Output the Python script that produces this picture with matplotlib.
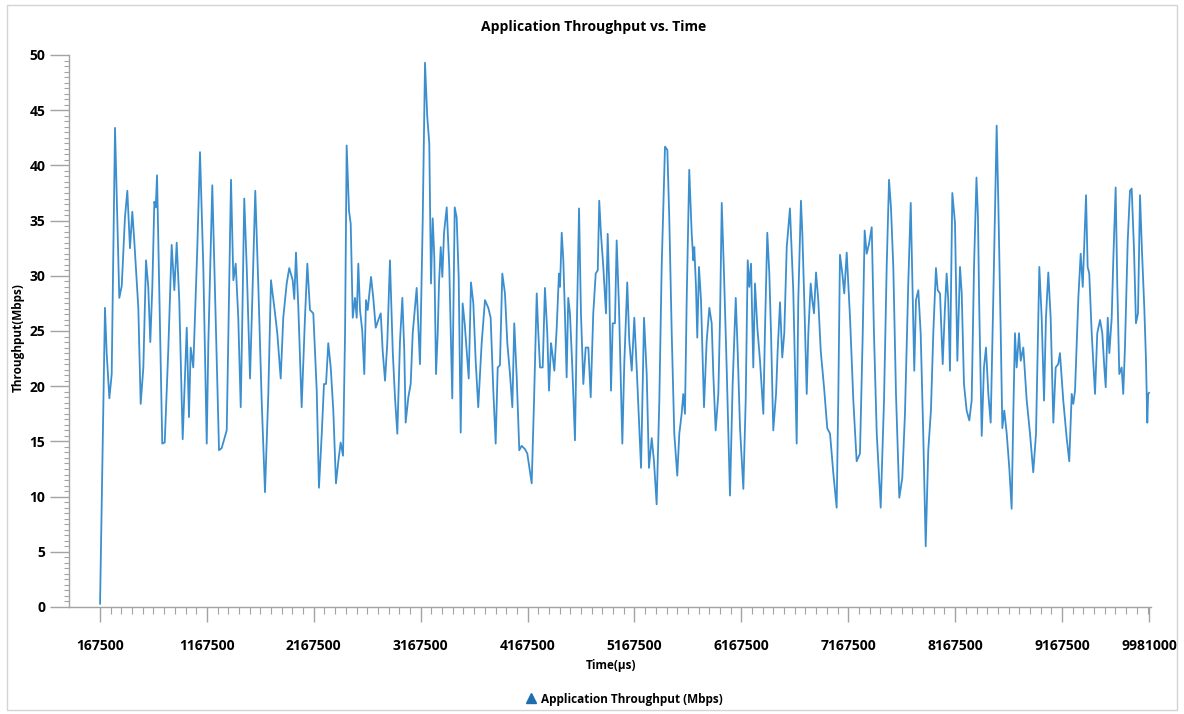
import numpy as np
import matplotlib
matplotlib.use("Agg")
import matplotlib.pyplot as plt
from matplotlib.ticker import FixedLocator
from matplotlib.lines import Line2D
from matplotlib.patches import Rectangle

# ---------------- data ----------------
time_ms = [
    168, 214, 230, 255, 277, 286, 308, 329, 348, 371,
    401, 423, 448, 470, 488, 526, 548, 573, 598, 619,
    638, 657, 676, 689, 701, 719, 750, 773, 806, 838,
    863, 885, 909, 941, 979, 1000, 1016, 1040, 1078, 1103,
    1134, 1166, 1181, 1218, 1243, 1281, 1306, 1353, 1393, 1415,
    1437, 1461, 1484, 1499, 1517, 1540, 1571, 1592, 1620, 1648,
    1680, 1711, 1742, 1767, 1805, 1826, 1858, 1882, 1914, 1938,
    1970, 1985, 2001, 2023, 2054, 2085, 2107, 2132, 2163, 2195,
    2216, 2242, 2263, 2282, 2303, 2326, 2350, 2375, 2397, 2419,
    2441, 2460, 2475, 2497, 2513, 2532, 2553, 2569, 2584, 2600,
    2621, 2640, 2656, 2672, 2703, 2724, 2747, 2771, 2794, 2812,
    2834, 2855, 2880, 2906, 2927, 2949, 2974, 2996, 3014, 3027,
    3052, 3074, 3093, 3130, 3161, 3186, 3208, 3229, 3248, 3264,
    3280, 3295, 3311, 3327, 3339, 3355, 3370, 3386, 3411, 3435,
    3463, 3486, 3504, 3523, 3542, 3560, 3579, 3598, 3617, 3638,
    3660, 3682, 3706, 3738, 3769, 3800, 3822, 3847, 3869, 3888,
    3909, 3931, 3956, 3978, 4003, 4025, 4043, 4066, 4090, 4112,
    4143, 4165, 4206,
    4228, 4253, 4268, 4284, 4309, 4330, 4352, 4368, 4387, 4399,
    4418, 4440, 4461, 4471, 4487, 4502, 4518, 4533, 4548, 4564,
    4586, 4611, 4627, 4649, 4667, 4689, 4711, 4736, 4758, 4782,
    4805, 4824, 4838, 4854, 4876, 4901, 4917, 4932, 4948, 4964,
    4985, 5001, 5023, 5054, 5072, 5100, 5119, 5142, 5166, 5188,
    5210, 5229, 5257, 5282, 5303, 5329, 5350, 5375, 5400, 5422,
    5453, 5475, 5493, 5516, 5540, 5568, 5587, 5609, 5624, 5640,
    5656, 5680, 5703, 5718, 5727, 5743, 5755, 5771, 5790, 5818,
    5843, 5868, 5890, 5905, 5927, 5952, 5968, 5984, 6005, 6030,
    6061, 6086, 6115, 6133, 6155, 6186, 6208, 6227, 6242, 6258,
    6279, 6295, 6317, 6342, 6373, 6389, 6410, 6429, 6445, 6466,
    6492, 6507, 6529, 6550, 6569, 6592, 6622, 6638, 6653, 6669,
    6685, 6700, 6716, 6725, 6738, 6756, 6779, 6794, 6816, 6831,
    6847, 6866, 6887, 6910, 6941, 6971, 6997, 7028, 7059, 7074,
    7090, 7112, 7130, 7153, 7184, 7215, 7246, 7277, 7303, 7321,
    7340, 7362, 7387, 7408, 7434, 7471, 7502, 7527, 7549, 7567,
    7589, 7614, 7645, 7673, 7698, 7729, 7752, 7770, 7785, 7801,
    7823, 7845, 7869, 7892, 7916, 7941, 7963, 7988, 8004, 8026,
    8051, 8072, 8088, 8103, 8119, 8141, 8166, 8188, 8213, 8229,
    8250, 8275, 8300, 8322, 8344, 8367, 8381, 8393, 8416, 8437,
    8456, 8478, 8500, 8524, 8556, 8571, 8594, 8609, 8627, 8650,
    8674, 8696, 8711, 8727, 8743, 8765, 8781, 8805, 8837, 8868,
    8898, 8924, 8955, 8977, 8999, 9017, 9039, 9061, 9086, 9108,
    9132, 9148, 9179, 9211, 9235, 9258, 9273, 9289, 9320, 9342,
    9361, 9373, 9392, 9407, 9422, 9445, 9476, 9497, 9523, 9544,
    9563, 9576, 9595, 9610, 9632, 9647, 9669, 9684, 9703, 9725,
    9740, 9756, 9782, 9803, 9819, 9841, 9859, 9878, 9897, 9915,
    9937, 9953, 9965, 9973, 9981,
]

throughput_mbps = [
    0.3, 27.1, 23, 18.9, 21.1, 27.8, 43.4, 35.3, 28, 29.1,
    35.3, 37.7, 32.5, 35.8, 33.2, 27.1, 18.4, 21.7, 31.4, 29,
    24, 29, 36.7, 36.2, 39.1, 30.2, 14.8, 14.9, 23.2, 32.8,
    28.7, 33, 27.8, 15.2, 25.3, 17.2, 23.5, 21.7, 32.6, 41.2,
    30.8, 14.8, 23.9, 38.2, 28.7, 14.2, 14.4, 16, 38.7, 29.6,
    31.1, 26.2, 18.1, 26.2, 37, 30.8, 20.7, 27.8, 37.7, 29.3,
    18.7, 10.4, 19.3, 29.6, 26.6, 24.8, 20.7, 26.2, 29.3, 30.7,
    29.6, 27.9, 32.1, 27.1, 18.1, 26.2, 31.1, 26.9, 26.6, 19.6,
    10.8, 15.7, 20.2, 20.2, 23.9, 21.7, 17.8, 11.2, 13.2, 14.9,
    13.7, 24.8, 41.8, 35.9, 34.7, 26.2, 28, 26.2, 31.1, 26.9,
    25, 21.1, 27.8, 26.9, 29.9, 28, 25.3, 26, 26.6, 23.2,
    20.5, 23.9, 31.4, 23.2, 19, 15.7, 24.1, 28, 23.2, 16.7,
    19, 20.2, 24.8, 28.9, 22, 34.7, 49.3, 44.4, 42, 29.3,
    35.2, 31.7, 21.1, 24.8, 29.3, 32.6, 29.9, 33.9, 36.2, 30.8,
    18.9, 36.2, 35.3, 29.9, 15.8, 27.5, 25.7, 23.2, 20.7, 29.4,
    27.5, 22.3, 18.1, 23.9, 27.8, 27.1, 26.2, 19.6, 14.8, 21.7,
    21.9, 30.2, 28.4, 23.9, 21.1, 18.1, 25.7, 20.8, 14.2, 14.6,
    14.3, 13.9, 11.2,
    18.7, 28.4, 24.8, 21.7, 21.7, 28.9, 24.8, 19.6, 23.9, 23,
    21.4, 25.3, 30.2, 29, 33.9, 31.4, 26.2, 20.8, 28, 26.6,
    21.7, 15.1, 24.8, 36.1, 26.6, 20.2, 23.5, 23.5, 19, 26.6,
    30.2, 30.5, 36.8, 33.8, 30.8, 26.6, 33.8, 29, 19.6, 25.7,
    25.7, 33.2, 27.1, 14.8, 22, 29.4, 24.1, 21.4, 26.2, 21.7,
    16.9, 12.6, 26.2, 21.1, 12.6, 15.3, 13.2, 9.3, 18.7, 30.8,
    41.7, 41.4, 35.3, 24.8, 15.7, 11.9, 15.7, 17.5, 19.3, 17.5,
    27.8, 39.6, 33.8, 31.4, 32.6, 29, 24.4, 30.8, 27.8, 18.1,
    24.1, 27.1, 25.7, 21.1, 16, 19.3, 26.2, 36.6, 30.2, 21.7,
    10.1, 20.2, 28, 23.2, 16.2, 10.7, 18.7, 31.4, 29, 31.1,
    21.7, 29.3, 25.3, 22.3, 17.5, 25.3, 33.9, 30.2, 24.8, 16,
    19.3, 23.2, 27.6, 22.6, 24.8, 32.6, 36.1, 32.3, 28.7, 21.7,
    14.8, 27.8, 33.8, 36.8, 33.8, 27.8, 19.3, 24.8, 29.3, 27.8,
    26.6, 30.3, 27.8, 23.2, 19.9, 16.2, 15.7, 12.1, 9, 18.7,
    31.9, 30.2, 28.4, 32.1, 26.2, 18.7, 13.2, 13.9, 24.8, 34.1,
    32, 32.9, 34.4, 24.8, 15.7, 9, 18.7, 30.8, 38.7, 36.2,
    30.8, 19.3, 9.9, 11.7, 17.5, 29.3, 36.6, 28.4, 21.4, 27.8,
    28.7, 24.8, 15.7, 5.5, 14.2, 17.8, 24.8, 30.7, 28.7, 28.4,
    22, 27.1, 30.2, 27.8, 21.4, 37.5, 34.8, 22.3, 30.8, 28.4,
    20.2, 17.8, 16.9, 18.7, 30.8, 38.9, 35.3, 27.1, 15.5, 21.7,
    23.5, 19.3, 16.7, 27.8, 43.6, 36.8, 24.8, 16.2, 17.8, 15.7,
    12.6, 8.9, 17.2, 24.8, 21.7, 24.8, 22.3, 23.5, 18.7, 15.7,
    12.2, 15.7, 30.8, 26.2, 18.7, 26.2, 30.3, 26.2, 16.7, 21.7,
    22, 23, 18.7, 15.3, 13.2, 19.3, 18.4, 19.6, 28, 32,
    29, 32.3, 37.3, 30.8, 30.2, 24.8, 19.3, 24.8, 26, 24.8,
    21.7, 19.9, 26.2, 23, 26.2, 31.4, 38, 29.3, 21.1, 21.7,
    19.3, 23.5, 33.2, 37.7, 37.9, 32.3, 25.7, 26.6, 37.3, 32.3,
    27.1, 22.3, 16.7, 19.3, 19.4,
]

x_tick_values = [167500, 1167500, 2167500, 3167500, 4167500, 5167500,
                 6167500, 7167500, 8167500, 9167500, 9981000]
y_tick_values = [0, 5, 10, 15, 20, 25, 30, 35, 40, 45, 50]

title_text = "Application Throughput vs. Time"
x_label = "Time(\u00b5s)"
y_label = "Throughput(Mbps)"
series_name = "Application Throughput (Mbps)"

# ---------------- styling ----------------
LINE_COLOR = "#3c8fcf"
AXIS_COLOR = "#a3a3a3"
plt.rcParams["font.family"] = ["Open Sans", "DejaVu Sans"]

W, H = 1184, 714
fig = plt.figure(figsize=(W / 100, H / 100), dpi=100)
fig.patch.set_facecolor("white")

# outer light frame
fig.add_artist(Rectangle((7 / W, 4 / H), (1177 - 7) / W, (709 - 4) / H,
                         transform=fig.transFigure, fill=False,
                         edgecolor="#d4d4d4", linewidth=1.0))

ax = fig.add_axes([69 / W, (H - 607) / H, (1151 - 69) / W, (607 - 55) / H])

time_us = np.array(time_ms) * 1000
ax.plot(time_us, throughput_mbps, color=LINE_COLOR, linewidth=1.3,
        solid_joinstyle="round")

ax.set_xlim(167500 - 31 * 9355, 9981000 + 2 * 9355)
ax.set_ylim(0, 50)

ax.set_xticks(x_tick_values)
ax.set_xticklabels([str(v) for v in x_tick_values])
ax.set_yticks(y_tick_values)
ax.set_yticklabels([str(v) for v in y_tick_values])

minor_x = list(np.arange(167500, 9981000, 100000))
ax.xaxis.set_minor_locator(FixedLocator(minor_x))
ax.yaxis.set_minor_locator(FixedLocator(list(np.arange(0, 50.01, 0.5))))

for side in ("top", "right"):
    ax.spines[side].set_visible(False)
for side in ("left", "bottom"):
    ax.spines[side].set_color(AXIS_COLOR)
    ax.spines[side].set_linewidth(1.0)

ax.tick_params(axis="x", which="major", length=11, width=1.0,
               color=AXIS_COLOR, pad=12, labelsize=10)
ax.tick_params(axis="x", which="minor", length=5, width=0.8,
               color=AXIS_COLOR)
ax.tick_params(axis="y", which="major", length=14, width=1.0,
               color=AXIS_COLOR, pad=3, labelsize=10)
ax.tick_params(axis="y", which="minor", length=3.5, width=0.8,
               color=AXIS_COLOR)
for lab in ax.get_xticklabels() + ax.get_yticklabels():
    lab.set_fontweight("bold")

fig.text(594 / W, 1 - 27 / H, title_text, ha="center", va="center",
         fontsize=10, fontweight="bold")
fig.text(18 / W, 1 - 338 / H, y_label, ha="center", va="center",
         rotation=90, fontsize=8.5, fontweight="bold")
fig.text(611 / W, 1 - 665 / H, x_label, ha="center", va="center",
         fontsize=8.5, fontweight="bold")

handle = Line2D([], [], linestyle="none", marker="^", markersize=7,
                color="#1f6fb0")
leg = fig.legend([handle], [series_name], loc="center",
                 bbox_to_anchor=(624 / W, 1 - 699 / H), frameon=False,
                 handlelength=1.0, handletextpad=0.3,
                 prop={"size": 8.5, "weight": "bold"})

fig.savefig("out.png", dpi=100, facecolor="white")
